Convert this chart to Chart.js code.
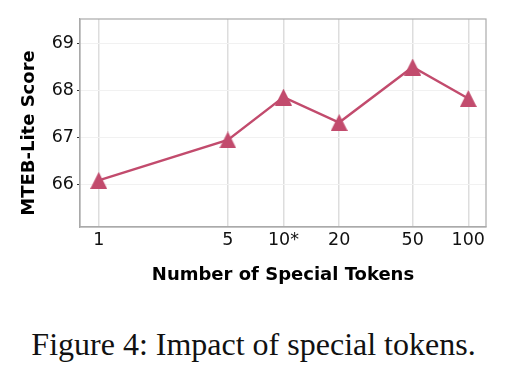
<!DOCTYPE html>
<html lang="en">
<head>
    <meta charset="UTF-8">
    <title>Impact of special tokens</title>
    <script src="https://cdn.jsdelivr.net/npm/chart.js"></script>
    <style>
        body {
            margin: 0;
            background: white;
            width: 507px;
            height: 380px;
            overflow: hidden;
        }
        #chart-container {
            width: 507px;
            height: 300px;
        }
        .caption {
            font-family: "Liberation Serif", serif;
            font-size: 32px;
            line-height: 32px;
            color: #111;
            text-align: center;
            margin-top: 28px;
        }
    </style>
</head>
<body>
    <div id="chart-container">
        <canvas id="chart" width="507" height="300"></canvas>
    </div>
    <div class="caption">Figure 4: Impact of special tokens.</div>

    <script>
        // data
        const tokens = [1, 5, 10, 20, 50, 100];
        const tickLabels = ['1', '5', '10*', '20', '50', '100'];
        const scores = [66.08, 66.94, 67.85, 67.31, 68.49, 67.82];
        const yTicks = [66, 67, 68, 69];
        const yTitle = 'MTEB-Lite Score';

        const lineColor = '#c24b6d';

        // matplotlib style '^' marker: box centred on the point
        function makeTriangle(size) {
            const c = document.createElement('canvas');
            c.width = size;
            c.height = size;
            const g = c.getContext('2d');
            g.fillStyle = lineColor;
            g.beginPath();
            g.moveTo(size / 2, 0);
            g.lineTo(size, size);
            g.lineTo(0, size);
            g.closePath();
            g.fill();
            return c;
        }
        const marker = makeTriangle(17);

        // full box round the plot area + the y title (sits a bit low in the original)
        const frame = {
            id: 'frame',
            afterDraw(chart) {
                const a = chart.chartArea;
                const c = chart.ctx;
                c.save();
                c.strokeStyle = '#aaaaaa';
                c.lineWidth = 1.2;
                c.strokeRect(a.left, a.top, a.right - a.left, a.bottom - a.top);

                c.translate(29, (a.top + a.bottom) / 2 + 10);
                c.rotate(-Math.PI / 2);
                c.fillStyle = '#000';
                c.font = 'bold 18px "DejaVu Sans"';
                c.textAlign = 'center';
                c.textBaseline = 'middle';
                c.fillText(yTitle, 0, 0);
                c.restore();
            }
        };

        const ctx = document.getElementById('chart').getContext('2d');
        const chart = new Chart(ctx, {
            type: 'line',
            data: {
                datasets: [{
                    data: tokens.map((t, i) => ({ x: t, y: scores[i] })),
                    borderColor: lineColor,
                    borderWidth: 2.4,
                    pointStyle: marker,
                    tension: 0
                }]
            },
            plugins: [frame],
            options: {
                responsive: false,
                animation: false,
                layout: {
                    padding: { left: 0, right: 21, top: 19, bottom: 0 }
                },
                plugins: {
                    legend: { display: false },
                    tooltip: { enabled: false }
                },
                scales: {
                    x: {
                        type: 'logarithmic',
                        min: 0.792,
                        max: 124.7,
                        afterBuildTicks: axis => {
                            axis.ticks = tokens.map(v => ({ value: v }));
                        },
                        afterFit: axis => { axis.height = 73; },
                        ticks: {
                            autoSkip: false,
                            maxRotation: 0,
                            color: '#111',
                            font: { family: 'DejaVu Sans', size: 17.5 },
                            padding: 3,
                            callback: (val, i) => tickLabels[i]
                        },
                        grid: {
                            color: '#dddddd',
                            lineWidth: 1.5,
                            drawTicks: false
                        },
                        border: { color: '#aaaaaa', width: 1.2 },
                        title: {
                            display: true,
                            text: 'Number of Special Tokens',
                            color: '#000',
                            font: { family: 'DejaVu Sans', size: 18, weight: 'bold' },
                            padding: { top: 0, bottom: 14 }
                        }
                    },
                    y: {
                        min: 65.09,
                        max: 69.51,
                        afterBuildTicks: axis => {
                            axis.ticks = yTicks.map(v => ({ value: v }));
                        },
                        afterFit: axis => { axis.width = 80; },
                        ticks: {
                            color: '#111',
                            font: { family: 'DejaVu Sans', size: 17.5 },
                            padding: 3
                        },
                        grid: {
                            color: '#f1f1f1',
                            lineWidth: 1,
                            tickColor: '#333',
                            tickLength: 3
                        },
                        border: { color: '#aaaaaa', width: 1.2 }
                    }
                }
            }
        });
    </script>
</body>
</html>
